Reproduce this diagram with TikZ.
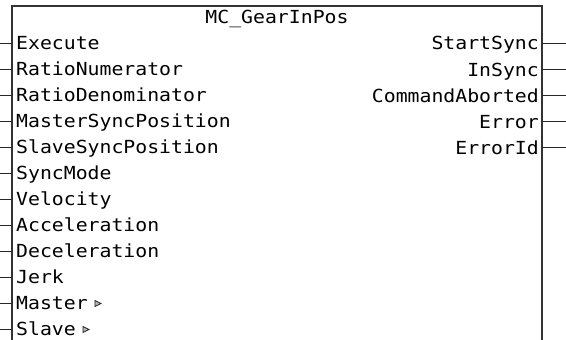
\documentclass[tikz,border=0pt]{standalone}
\usepackage{fontspec}
\newfontfamily\pinfont[FakeStretch=1.1]{DejaVu Sans Mono}
\begin{document}
\begin{tikzpicture}[x=1pt,y=1pt,
  pintext/.style={inner sep=0pt,text depth=0pt,font=\pinfont\fontsize{18}{20}\selectfont},
  pinl/.style={pintext,anchor=base west},
  pinr/.style={pintext,anchor=base east},
  titletext/.style={pintext,anchor=base},
  stub/.style={line width=1.2pt,black!85},
  blockline/.style={line width=1.7pt,black!80},
  tri/.style={line width=0.8pt,black!85,fill=black!30}]
\useasboundingbox (0,0) rectangle (566,340);
\coordinate (bl) at (12,-10);
\coordinate (tl) at (12,334);
\coordinate (tr) at (542,334);
\coordinate (br) at (542,-10);
\draw[blockline] (bl) -- (tl) -- (tr) -- (br);
\node[titletext] (title) at (277,316.5) {MC\_GearInPos};
\foreach \n [count=\i from 0] in {Execute,RatioNumerator,RatioDenominator,MasterSyncPosition,SlaveSyncPosition,SyncMode,Velocity,Acceleration,Deceleration,Jerk,Master,Slave}{
  \pgfmathsetmacro{\yy}{340-(43.5+26.0*\i)}
  \coordinate (in\i) at (0,\yy);
  \draw[stub] (in\i) -- (in\i -| tl);
  \node[pinl] (lbl\i) at (16,\yy-6.5) {\n};
}
\foreach \n [count=\i from 0] in {StartSync,InSync,CommandAborted,Error,ErrorId}{
  \pgfmathsetmacro{\yy}{340-(43.5+26.1*\i)}
  \coordinate (out\i) at (566,\yy);
  \draw[stub] (out\i -| tr) -- (out\i);
  \node[pinr] (olbl\i) at (539,\yy-6.5) {\n};
}
\foreach \i in {10,11}{
  \draw[tri] ([xshift=7pt,yshift=3.5pt]lbl\i.base east) -- ++(0,6) -- ++(6,-3) -- cycle;
}
\end{tikzpicture}
\end{document}
